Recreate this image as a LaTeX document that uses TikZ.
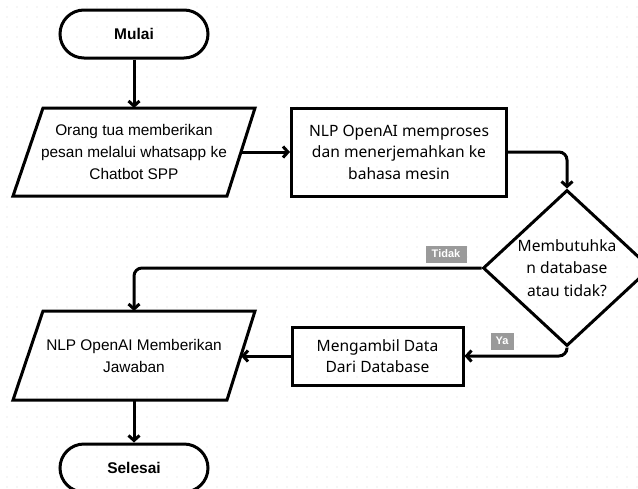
\documentclass[tikz,border=0pt]{standalone}
\usepackage{fontspec}
\setmainfont{Liberation Sans}
\newfontfamily\boxfont{Noto Sans}
\usetikzlibrary{shapes.geometric,arrows.meta}
\definecolor{dotc}{HTML}{DADADA}
\definecolor{tagc}{HTML}{9A9A9A}
\begin{document}
\begin{tikzpicture}[x=1pt,y=-1pt,
  outl/.style={draw, line width=3pt, line join=miter},
  pill/.style={draw, line width=3pt, rounded corners=24pt, minimum width=148pt, minimum height=48pt, font=\bfseries\fontsize{15.5}{18}\selectfont},
  boxn/.style={draw, line width=3pt, align=center, inner sep=0pt, font=\boxfont\fontsize{15.6}{21.5}\selectfont},
  txt/.style={align=center, inner sep=0pt, font=\fontsize{15.4}{22}\selectfont},
  dia/.style={draw, line width=3pt, diamond, inner sep=0pt, minimum width=168pt, minimum height=156pt, align=center, font=\boxfont\fontsize{15.6}{22.5}\selectfont},
  conn/.style={line width=3pt, rounded corners=8pt, -{Straight Barb[length=5pt,width=11pt,line width=3pt]}},
  tag/.style={fill=tagc, text=white, inner sep=0pt, minimum height=17pt, font=\bfseries\fontsize{11}{13}\selectfont}
]
\useasboundingbox (0,0) rectangle (638,488);
\clip (0,0) rectangle (638,488);
\fill[white] (0,0) rectangle (638,488);
\foreach \i in {0,...,63} {
  \foreach \j in {0,...,48} {
    \fill[dotc] (7+10*\i,7+10*\j) circle (0.7pt);
  }
}
% shapes
\node[pill] (mulai) at (134,34) {Mulai};
\draw[outl] (43,108) -- (255,108) -- (227,196) -- (13,196) -- cycle;
\node[txt] (p1) at (134,152) {Orang tua memberikan\\pesan melalui whatsapp ke\\Chatbot SPP};
\coordinate (p1t) at (134,108);
\coordinate (p1r) at (241,152);
\node[boxn, minimum width=215pt, minimum height=88pt] (r1) at (399,152) {NLP OpenAI memproses\\dan menerjemahkan ke\\bahasa mesin};
\node[dia] (d) at (567,268) {Membutuhka\\n database\\atau tidak?};
\draw[outl] (43,311) -- (255,311) -- (227,400) -- (13,400) -- cycle;
\node[txt] (p2) at (134,356) {NLP OpenAI Memberikan\\Jawaban};
\coordinate (p2t) at (134,311);
\coordinate (p2r) at (241,356);
\coordinate (p2b) at (134,400);
\node[boxn, minimum width=171pt, minimum height=58pt] (r2) at (377.5,356) {Mengambil Data\\Dari Database};
\node[pill] (selesai) at (134,468) {Selesai};
% connectors
\draw[conn] (mulai) -- (p1t);
\draw[conn] (p1r) -- (r1.west);
\draw[conn] (r1.east) -| (d.north);
\draw[conn] (d.west) -| (p2t);
\draw[conn] (d.south) |- (r2.east);
\draw[conn] (r2.west) -- (p2r);
\draw[conn] (p2b) -- (selesai);
% labels
\node[tag, minimum width=41pt] (tidak) at (446,254) {Tidak};
\node[tag, minimum width=23pt] (ya) at (502,341) {Ya};
\end{tikzpicture}
\end{document}
